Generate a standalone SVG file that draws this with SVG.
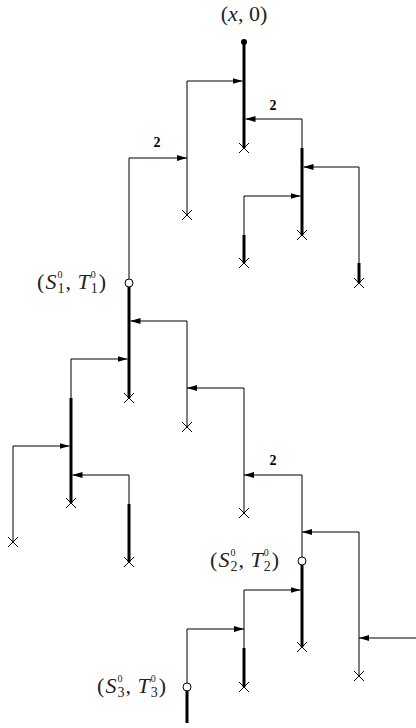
<svg xmlns="http://www.w3.org/2000/svg" width="416" height="728" viewBox="0 0 416 728">
<style>
.thin{stroke:#000;stroke-width:1;fill:none}
.thick{stroke:#000;stroke-width:3;fill:none}
.x{stroke:#000;stroke-width:1;fill:none}
.circ{stroke:#000;stroke-width:1;fill:#fff}
.arr{stroke:#000;stroke-width:1;fill:none;marker-end:url(#ah)}
.lbl{font-family:"Liberation Serif","DejaVu Serif",serif;font-size:22px;fill:#222}
.it{font-style:italic}
.sup{font-size:10px}
.sub{font-size:14px}
.two{font-family:"Liberation Serif","DejaVu Serif",serif;font-size:14px;font-weight:bold;fill:#000}
</style>
<defs>
<marker id="ah" viewBox="0 0 10 6" refX="10" refY="3" markerWidth="10" markerHeight="6" markerUnits="userSpaceOnUse" orient="auto">
<path d="M0,0 L10,3 L0,6 Z" fill="#000"/>
</marker>
<path id="cr" d="M-5,-5 L5,5 M-5,5 L5,-5" class="x"/>
</defs>
<g id="labels">
<text class="lbl" x="244" y="21" text-anchor="middle">(<tspan class="it">x</tspan>, 0)</text>
<text class="lbl" x="106" y="289" text-anchor="end">(<tspan class="it" dx="1">S</tspan><tspan class="sup" dx="1" dy="-11">0</tspan><tspan class="sub" dx="-5" dy="14.5">1</tspan><tspan dx="1" dy="-3.5">, </tspan><tspan class="it" dx="1">T</tspan><tspan class="sup" dx="1" dy="-11">0</tspan><tspan class="sub" dx="-5" dy="14.5">1</tspan><tspan dx="1" dy="-3.5">)</tspan></text>
<text class="lbl" x="279" y="567" text-anchor="end">(<tspan class="it" dx="1">S</tspan><tspan class="sup" dx="1" dy="-11">0</tspan><tspan class="sub" dx="-5" dy="14.5">2</tspan><tspan dx="1" dy="-3.5">, </tspan><tspan class="it" dx="1">T</tspan><tspan class="sup" dx="1" dy="-11">0</tspan><tspan class="sub" dx="-5" dy="14.5">2</tspan><tspan dx="1" dy="-3.5">)</tspan></text>
<text class="lbl" x="166" y="693" text-anchor="end">(<tspan class="it" dx="1">S</tspan><tspan class="sup" dx="1" dy="-11">0</tspan><tspan class="sub" dx="-5" dy="14.5">3</tspan><tspan dx="1" dy="-3.5">, </tspan><tspan class="it" dx="1">T</tspan><tspan class="sup" dx="1" dy="-11">0</tspan><tspan class="sub" dx="-5" dy="14.5">3</tspan><tspan dx="1" dy="-3.5">)</tspan></text>
<text class="two" x="273" y="110" text-anchor="middle">2</text>
<text class="two" x="157" y="147" text-anchor="middle">2</text>
<text class="two" x="273" y="465" text-anchor="middle">2</text>
</g>
<g id="n1"><line class="thick" x1="244" y1="42" x2="244" y2="148"/><circle cx="244" cy="42" r="3" fill="#000"/><use href="#cr" x="244" y="148"/></g>
<g id="n2"><line class="thin" x1="187" y1="81" x2="187" y2="215"/><use href="#cr" x="187" y="215"/></g>
<g id="n3"><line class="thin" x1="302" y1="119" x2="302" y2="148"/><line class="thick" x1="302" y1="148" x2="302" y2="235"/><use href="#cr" x="302" y="235"/></g>
<g id="n4"><line class="thin" x1="359" y1="167" x2="359" y2="263"/><line class="thick" x1="359" y1="263" x2="359" y2="283"/><use href="#cr" x="359" y="283"/></g>
<g id="n5"><line class="thin" x1="244" y1="196" x2="244" y2="235"/><line class="thick" x1="244" y1="235" x2="244" y2="263"/><use href="#cr" x="244" y="263"/></g>
<g id="n6"><line class="thin" x1="129" y1="158" x2="129" y2="279"/><line class="thick" x1="129" y1="287" x2="129" y2="398"/><circle class="circ" cx="129" cy="283" r="4"/><use href="#cr" x="129" y="398"/></g>
<g id="n7"><line class="thin" x1="187" y1="321" x2="187" y2="427"/><use href="#cr" x="187" y="427"/></g>
<g id="n8"><line class="thin" x1="71" y1="359" x2="71" y2="398"/><line class="thick" x1="71" y1="398" x2="71" y2="503"/><use href="#cr" x="71" y="503"/></g>
<g id="n9"><line class="thin" x1="13" y1="446" x2="13" y2="542"/><use href="#cr" x="13" y="542"/></g>
<g id="n10"><line class="thin" x1="129" y1="475" x2="129" y2="504"/><line class="thick" x1="129" y1="504" x2="129" y2="562"/><use href="#cr" x="129" y="562"/></g>
<g id="n11"><line class="thin" x1="244" y1="388" x2="244" y2="513"/><use href="#cr" x="244" y="513"/></g>
<g id="n12"><line class="thin" x1="302" y1="475" x2="302" y2="557"/><line class="thick" x1="302" y1="565" x2="302" y2="647"/><circle class="circ" cx="302" cy="561" r="4"/><use href="#cr" x="302" y="647"/></g>
<g id="n13"><line class="thin" x1="359" y1="532" x2="359" y2="676"/><use href="#cr" x="359" y="676"/></g>
<g id="n14"><line class="thin" x1="244" y1="590" x2="244" y2="648"/><line class="thick" x1="244" y1="648" x2="244" y2="687"/><use href="#cr" x="244" y="687"/></g>
<g id="n15"><line class="thin" x1="187" y1="629" x2="187" y2="683"/><line class="thick" x1="187" y1="691" x2="187" y2="723"/><circle class="circ" cx="187" cy="687" r="4"/></g>
<g id="connectors">
<path class="arr" d="M187,81 H242.5"/>
<path class="arr" d="M302,119 H245.5"/>
<path class="arr" d="M359,167 H303.5"/>
<path class="arr" d="M244,196 H300.5"/>
<path class="arr" d="M129,158 H187"/>
<path class="arr" d="M187,321 H130.5"/>
<path class="arr" d="M71,359 H127.5"/>
<path class="arr" d="M244,388 H187"/>
<path class="arr" d="M13,446 H69.5"/>
<path class="arr" d="M129,475 H72.5"/>
<path class="arr" d="M302,475 H244"/>
<path class="arr" d="M359,532 H302"/>
<path class="arr" d="M244,590 H300.5"/>
<path class="arr" d="M187,629 H244"/>
<path class="arr" d="M416,638 H359"/>
</g>
</svg>
